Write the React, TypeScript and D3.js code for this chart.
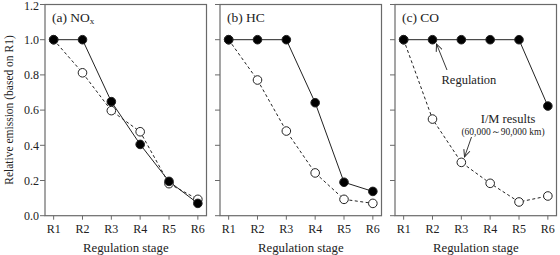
import React from "react";
import * as d3 from "d3";

const stages = ["R1", "R2", "R3", "R4", "R5", "R6"];
const yTicks = [0, 0.2, 0.4, 0.6, 0.8, 1.0, 1.2];
const noxRegulation = [1.0, 1.0, 0.648, 0.405, 0.195, 0.07];
const noxIM = [1.0, 0.812, 0.597, 0.477, 0.182, 0.093];
const hcRegulation = [1.0, 1.0, 1.0, 0.642, 0.19, 0.138];
const hcIM = [1.0, 0.771, 0.481, 0.243, 0.093, 0.07];
const coRegulation = [1.0, 1.0, 1.0, 1.0, 1.0, 0.623];
const coIM = [1.0, 0.549, 0.303, 0.184, 0.078, 0.112];

const panels = [
  { label: "(a) NO", sub: "x", reg: noxRegulation, im: noxIM },
  { label: "(b) HC", sub: "", reg: hcRegulation, im: hcIM },
  { label: "(c) CO", sub: "", reg: coRegulation, im: coIM },
];

const lefts = [45, 220, 395];
const W = 161.5;
const top = 4.5;
const bottom = 215.7;
const frame = "#6a6a6a";
const ink = "#222";
const font = "'Times New Roman', 'Liberation Serif', Times, serif";

export default function App() {
  const y = d3.scaleLinear().domain([0, 1.2]).range([bottom, top]);
  const x = d3.scalePoint<string>().domain(stages).range([0, W]).padding(0.3);
  return (
    <svg width={560} height={255} style={{ position: "absolute", left: 0, top: 0, fontFamily: font }}>
      <rect x={0} y={0} width={560} height={255} fill="white" />
      <defs>
        <marker id="arr" viewBox="0 0 10 10" refX={9} refY={5} markerWidth={8} markerHeight={8} orient="auto-start-reverse" markerUnits="userSpaceOnUse">
          <path d="M0,1 L9,5 L0,9" fill="none" stroke={ink} strokeWidth={1.2} />
        </marker>
      </defs>
      {panels.map((p, i) => {
        const L = lefts[i];
        const line = d3
          .line<number>()
          .x((_, j) => L + (x(stages[j]) as number))
          .y((v) => y(v));
        return (
          <g key={i}>
            <rect x={L} y={top} width={W} height={bottom - top} fill="none" stroke={frame} strokeWidth={1.2} />
            {yTicks.map((t) => (
              <g key={t}>
                <line x1={L - 5} x2={L} y1={y(t)} y2={y(t)} stroke={frame} strokeWidth={1} />
                {i === 0 && (
                  <text x={L - 6} y={y(t) + (t === 1.2 ? 1 : 0)} dy="0.35em" textAnchor="end" fontSize={12} fill={ink}>
                    {t.toFixed(1)}
                  </text>
                )}
              </g>
            ))}
            {stages.map((s) => (
              <g key={s}>
                <line x1={L + (x(s) as number)} x2={L + (x(s) as number)} y1={bottom} y2={bottom + 4} stroke={frame} strokeWidth={1} />
                <text x={L + (x(s) as number)} y={bottom + 13} dy="0.35em" textAnchor="middle" fontSize={12} fill={ink}>
                  {s}
                </text>
              </g>
            ))}
            <text x={L + W / 2} y={248} dy="0.35em" textAnchor="middle" fontSize={12.8} fill={ink}>
              Regulation stage
            </text>
            <text x={L + 7} y={17} dy="0.35em" fontSize={13.5} fill={ink}>
              {p.label}
              {p.sub && (
                <tspan fontSize={9} dy={2}>
                  {p.sub}
                </tspan>
              )}
            </text>
            <path d={line(p.im) || ""} fill="none" stroke={ink} strokeWidth={1} strokeDasharray="3,2.5" />
            <path d={line(p.reg) || ""} fill="none" stroke={ink} strokeWidth={1} />
            {p.im.map((v, j) => (
              <circle key={"o" + j} cx={L + (x(stages[j]) as number)} cy={y(v)} r={4.3} fill="white" stroke={ink} strokeWidth={1} />
            ))}
            {p.reg.map((v, j) => (
              <circle key={"f" + j} cx={L + (x(stages[j]) as number)} cy={y(v)} r={4.3} fill="black" stroke={ink} strokeWidth={1} />
            ))}
          </g>
        );
      })}
      <text transform={`translate(9,110) rotate(-90)`} textAnchor="middle" dy="0.35em" fontSize={11.5} fill={ink}>
        Relative emission (based on R1)
      </text>
      {/* annotations in panel c */}
      <line x1={447} y1={70} x2={436.5} y2={44} stroke={ink} strokeWidth={0.9} markerEnd="url(#arr)" />
      <text x={441.5} y={79.5} dy="0.35em" fontSize={12.5} fill={ink}>
        Regulation
      </text>
      <text x={508} y={119} dy="0.35em" textAnchor="middle" fontSize={12.5} fill={ink}>
        I/M results
      </text>
      <text x={503} y={131.5} dy="0.35em" textAnchor="middle" fontSize={9.5} fill={ink}>
        (60,000～90,000 km)
      </text>
      <line x1={471.5} y1={137} x2={464.5} y2={157} stroke={ink} strokeWidth={0.9} markerEnd="url(#arr)" />
    </svg>
  );
}
